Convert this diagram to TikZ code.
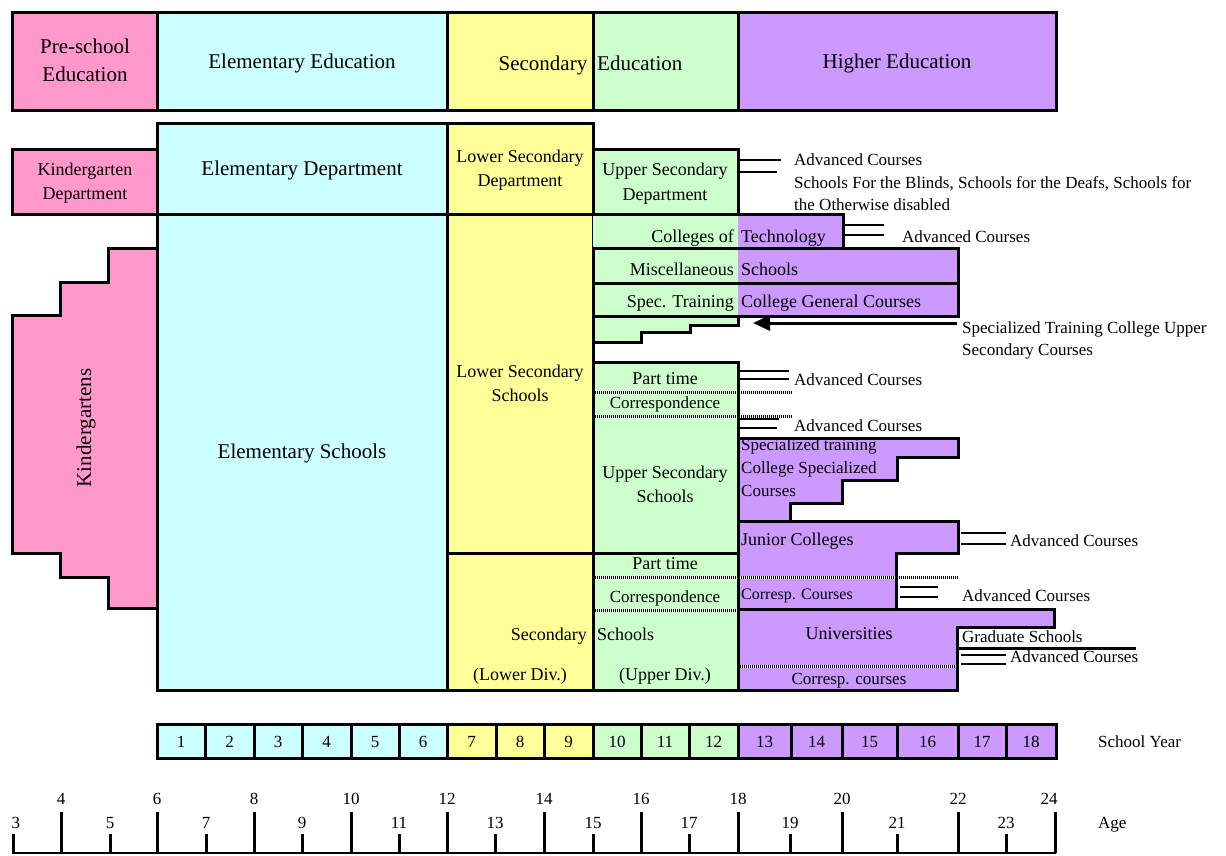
\documentclass[tikz,border=0pt]{standalone}
\usepackage{fontspec}
\setmainfont{Liberation Serif}
\usetikzlibrary{arrows.meta}
\definecolor{cPink}{HTML}{FF99CC}
\definecolor{cCyan}{HTML}{CCFFFF}
\definecolor{cYel}{HTML}{FFFF99}
\definecolor{cGrn}{HTML}{CCFFCC}
\definecolor{cPur}{HTML}{CC99FF}
\newcommand\szL{\fontsize{21}{27}\selectfont}
\newcommand\szM{\fontsize{18}{24}\selectfont}
\newcommand\szS{\fontsize{17}{22}\selectfont}
\newcommand\szT{\fontsize{16}{20}\selectfont}
\begin{document}
\begin{tikzpicture}[x=1pt,y=-1pt,
  shp/.style={draw=black,line width=3pt,line join=miter},
  bline/.style={draw=black,line width=3pt},
  dotln/.style={draw=black,line width=3pt,dash pattern=on 1pt off 1pt,
                preaction={draw=white,solid,line width=3pt}},
  dbl/.style={draw=black,line width=2pt},
  tc/.style={inner sep=0pt,anchor=base},
  tw/.style={inner sep=0pt,anchor=base west},
  te/.style={inner sep=0pt,anchor=base east},
]
\useasboundingbox (0,0) rectangle (1226,855);

% ---------- top row ----------
\filldraw[shp,fill=cPink] (12,12) rectangle (157,110);
\filldraw[shp,fill=cCyan] (157,12) rectangle (447,110);
\filldraw[shp,fill=cYel] (447,12) rectangle (593,110);
\filldraw[shp,fill=cGrn] (593,12) rectangle (738,110);
\filldraw[shp,fill=cPur] (738,12) rectangle (1056,110);
\node[tc,font=\szL] (pre1) at (85,53) {Pre-school};
\node[tc,font=\szL] (pre2) at (85,81.5) {Education};
\node[tc,font=\szL] (eleEd) at (302,68.5) {Elementary Education};
\node[te,font=\szL] (secA) at (587.5,70.5) {Secondary};
\node[tw,font=\szL] (secB) at (597,70.5) {Education};
\node[tc,font=\szL] (higher) at (897,68.5) {Higher Education};

% ---------- departments row ----------
\filldraw[shp,fill=cPink] (12,149) rectangle (157,214);
\filldraw[shp,fill=cCyan] (157,123) rectangle (447,214);
\filldraw[shp,fill=cYel] (447,123) rectangle (593,214);
\filldraw[shp,fill=cGrn] (593,149) rectangle (738,214);
\node[tc,font=\szM] (kd1) at (85,175) {Kindergarten};
\node[tc,font=\szM] (kd2) at (85,199.3) {Department};
\node[tc,font=\szL] (eleDep) at (302,175.7) {Elementary Department};
\node[tc,font=\szM] (lsd1) at (520,162.3) {Lower Secondary};
\node[tc,font=\szM] (lsd2) at (520,186.7) {Department};
\node[tc,font=\szM] (usd1) at (665,175) {Upper Secondary};
\node[tc,font=\szM] (usd2) at (665,200) {Department};
\draw[dbl] (740,160) -- (781,160);
\draw[dbl] (740,172) -- (777,172);
\node[tw,font=\szS] (ann1) at (794,165.5) {Advanced Courses};
\node[tw,font=\szS] (ann2) at (794,188) {Schools For the Blinds, Schools for the Deafs, Schools for};
\node[tw,font=\szS] (ann3) at (794,210.7) {the Otherwise disabled};

% ---------- main body ----------
\filldraw[shp,fill=cCyan] (157,214) rectangle (447,690);
\filldraw[shp,fill=cPink] (157,248) -- (108,248) -- (108,282) -- (60,282) -- (60,315) -- (12,315)
  -- (12,553) -- (60,553) -- (60,577) -- (108,577) -- (108,608) -- (157,608) -- cycle;
\node[inner sep=0pt,rotate=90,font=\szL] (kg) at (86,428) {Kindergartens};
\node[tc,font=\szL] (eleS) at (302,458) {Elementary Schools};

\filldraw[shp,fill=cYel] (447,214) rectangle (593,553);
\filldraw[shp,fill=cYel] (447,553) rectangle (593,690);
\node[tc,font=\szM] (lss1) at (520,377) {Lower Secondary};
\node[tc,font=\szM] (lss2) at (520,401.5) {Schools};

% colleges of technology / misc / spec training rows
\fill[cGrn] (593,214) rectangle (738,316);
\fill[cPur] (738,214) rectangle (843,248);
\fill[cPur] (738,248) rectangle (958,316);
\draw[shp] (593,214) -- (843,214) -- (843,248) -- (593,248);
\draw[shp] (593,248) rectangle (958,283);
\draw[shp] (593,283) rectangle (958,316);
\node[te,font=\szM] (cot1) at (734,242) {Colleges of};
\node[tw,font=\szM] (cot2) at (741,242) {Technology};
\node[te,font=\szM] (mis1) at (734,275) {Miscellaneous};
\node[tw,font=\szM] (mis2) at (741,275) {Schools};
\node[te,font=\szM] (spt1) at (734,307.5) {Spec. Training};
\node[tw,font=\szM] (spt2) at (741,307.5) {College General Courses};
\draw[dbl] (845,225) -- (884,225);
\draw[dbl] (845,235) -- (884,235);
\node[tw,font=\szS] (cotadv) at (902,242) {Advanced Courses};

% specialized training college upper secondary courses
\filldraw[shp,fill=cGrn] (593,316) -- (738,316) -- (738,325) -- (690,325) -- (690,332)
  -- (641,332) -- (641,342) -- (593,342) -- cycle;
\coordinate (arS) at (957,323);
\coordinate (arE) at (753,323);
\draw[line width=3pt,-{Triangle[length=17pt,width=15pt]}] (arS) -- (arE);
\node[tw,font=\szS] (stc1) at (962,333) {Specialized Training College Upper};
\node[tw,font=\szS] (stc2) at (962,355.5) {Secondary Courses};

% upper secondary schools
\filldraw[shp,fill=cGrn] (593,362) rectangle (738,553);
\filldraw[shp,fill=cPur] (738,438) -- (958,438) -- (958,457) -- (897,457) -- (897,480)
  -- (842,480) -- (842,503) -- (790,503) -- (790,521) -- (738,521) -- cycle;
\filldraw[shp,fill=cPur] (738,521) -- (958,521) -- (958,553) -- (896,553) -- (896,609)
  -- (738,609) -- cycle;
\filldraw[shp,fill=cGrn] (593,553) rectangle (738,690);
\filldraw[shp,fill=cPur] (738,609) -- (1054,609) -- (1054,627) -- (957,627) -- (957,690)
  -- (738,690) -- cycle;

% dotted lines
\draw[dotln] (594.5,392) -- (791,392);
\draw[dotln] (594.5,416) -- (791,416);
\draw[dotln] (594.5,577) -- (958,577);
\draw[dotln] (594.5,610.5) -- (736.5,610.5);
\draw[dotln] (739.5,666) -- (955.5,666);
\draw[bline] (738,362) -- (738,553);
\draw[bline] (738,553) -- (738,690);
\draw[bline] (896,553) -- (896,609);

\node[tc,font=\szM] (pt1) at (665,384) {Part time};
\node[tc,font=\szS] (cor1) at (665,408) {Correspondence};
\node[tc,font=\szM] (uss1) at (665,478) {Upper Secondary};
\node[tc,font=\szM] (uss2) at (665,502) {Schools};
\draw[dbl] (739,371) -- (789,371);
\draw[dbl] (739,379) -- (789,379);
\node[tw,font=\szS] (ptadv) at (794,385) {Advanced Courses};
\draw[dbl] (739,419) -- (779,419);
\draw[dbl] (739,428) -- (777,428);
\node[tw,font=\szS] (coradv) at (794,431.7) {Advanced Courses};

\node[tw,font=\szS] (stt1) at (741,450) {Specialized training};
\node[tw,font=\szS] (stt2) at (741,473) {College Specialized};
\node[tw,font=\szS] (stt3) at (741,496) {Courses};

\node[tw,font=\szM] (jc) at (741,545) {Junior Colleges};
\draw[dbl] (961,533) -- (1006,533);
\draw[dbl] (961,544) -- (1006,544);
\node[tw,font=\szS] (jcadv) at (1010,546) {Advanced Courses};
\node[tw,font=\szT] (jcc) at (741,599) {Corresp. Courses};
\draw[dbl] (900,587) -- (938,587);
\draw[dbl] (900,597) -- (938,597);
\node[tw,font=\szS] (jccadv) at (962,601.7) {Advanced Courses};

\node[tc,font=\szM] (univ) at (849,639) {Universities};
\draw[bline] (957,648) -- (1136,648);
\node[tw,font=\szS] (grad) at (962,642) {Graduate Schools};
\draw[dbl] (961,655) -- (1006,655);
\draw[dbl] (961,664) -- (1006,664);
\node[tw,font=\szS] (uadv) at (1010,662) {Advanced Courses};
\node[tc,font=\szS] (ucor) at (849,684) {Corresp. courses};

\node[tc,font=\szM] (pt2) at (665,569) {Part time};
\node[tc,font=\szS] (cor2) at (665,602.3) {Correspondence};
\node[te,font=\szM] (ss1) at (587,640) {Secondary};
\node[tw,font=\szM] (ss2) at (597,640) {Schools};
\node[tc,font=\szM] (ld) at (520,680) {(Lower Div.)};
\node[tc,font=\szM] (ud) at (665,680) {(Upper Div.)};

% ---------- school years ----------
\foreach \a/\b/\n/\c in {157/205/1/cCyan, 205/254/2/cCyan, 254/302/3/cCyan, 302/351/4/cCyan,
  351/399/5/cCyan, 399/447/6/cCyan, 447/496/7/cYel, 496/544/8/cYel, 544/593/9/cYel,
  593/641/10/cGrn, 641/689/11/cGrn, 689/738/12/cGrn, 738/791/13/cPur, 791/842/14/cPur,
  842/897/15/cPur, 897/958/16/cPur, 958/1006/17/cPur, 1006/1056/18/cPur}
{
  \filldraw[shp,fill=\c] (\a,724) rectangle (\b,758);
  \node[tc,font=\szS] (yr\n) at ({(\a+\b)/2},747) {\n};
}
\node[tw,font=\szS] (syear) at (1098,747) {School Year};

% ---------- ages ----------
\foreach \x/\g in {61/4,157/6,254/8,351/10,447/12,544/14,641/16,738/18,842/20,958/22}
{
  \draw[line width=3pt] (\x,812) -- (\x,853);
  \node[tc,font=\szS] (ag\g) at (\x,804) {\g};
}
\draw[line width=3pt] (1055,812) -- (1055,853);
\node[tc,font=\szS] (ag24) at (1049,804) {24};
\foreach \x/\g in {13/3,110/5,206/7,302/9,399/11,495/13,593/15,689/17,790/19,897/21,1006/23}
{
  \draw[line width=3pt] (\x,834) -- (\x,853);
}
\foreach \x/\g in {16/3,110/5,206/7,302/9,399/11,495/13,593/15,689/17,790/19,897/21,1006/23}
{
  \node[tc,font=\szS] (ag\g) at (\x,828) {\g};
}
\draw[line width=2pt] (12,853) -- (1056,853);
\node[tw,font=\szS] (agel) at (1098,828) {Age};
\end{tikzpicture}
\end{document}
